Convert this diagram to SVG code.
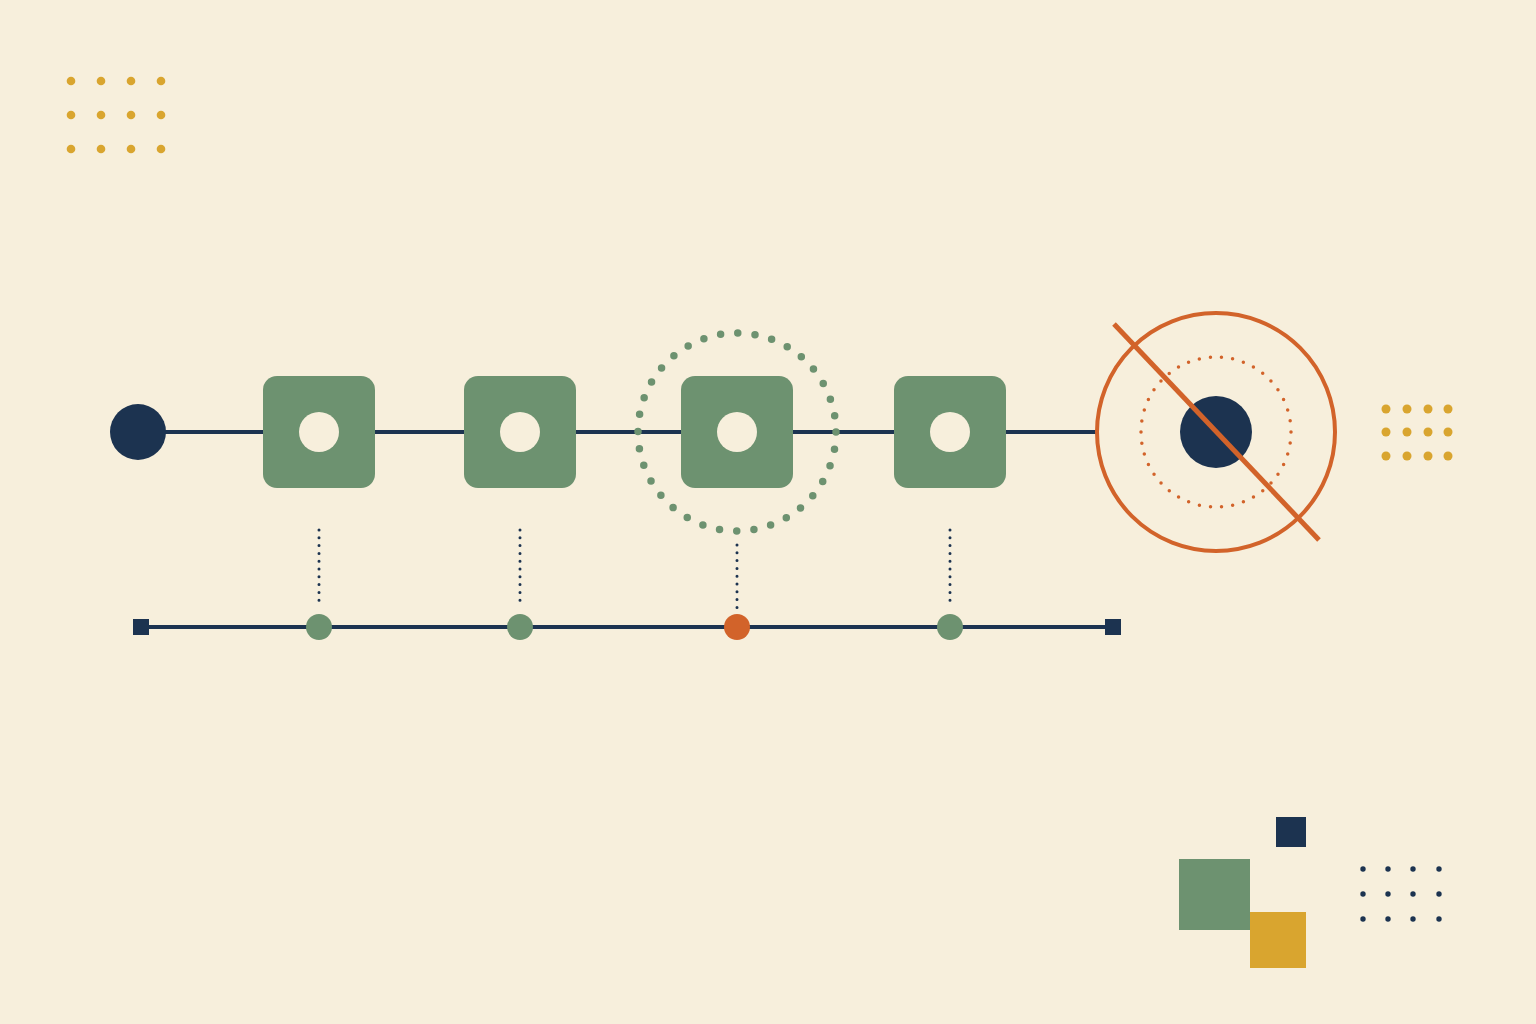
<svg xmlns="http://www.w3.org/2000/svg" width="1536" height="1024" viewBox="0 0 1536 1024">
<style>
.navy{fill:#1c3350}
.green{fill:#6d9270}
.orange{fill:#d2632a}
.gold{fill:#d9a52f}
.hole{fill:#f7efdc}
.line{stroke:#1c3350;stroke-width:4;fill:none}
.vdot{stroke:#1c3350;stroke-width:3;stroke-linecap:round;stroke-dasharray:0 7.8;fill:none}
</style>
<rect width="1536" height="1024" fill="#f7efdc"/>
<g id="dots-top-left" class="gold">
<circle cx="71" cy="81" r="4.3"/><circle cx="101" cy="81" r="4.3"/><circle cx="131" cy="81" r="4.3"/><circle cx="161" cy="81" r="4.3"/>
<circle cx="71" cy="115" r="4.3"/><circle cx="101" cy="115" r="4.3"/><circle cx="131" cy="115" r="4.3"/><circle cx="161" cy="115" r="4.3"/>
<circle cx="71" cy="149" r="4.3"/><circle cx="101" cy="149" r="4.3"/><circle cx="131" cy="149" r="4.3"/><circle cx="161" cy="149" r="4.3"/>
</g>
<g id="connectors">
<line class="line" x1="138" y1="432" x2="1098" y2="432"/>
<line class="line" x1="141" y1="627" x2="1113" y2="627" stroke-width="3.5"/>
<line class="vdot" x1="319" y1="530" x2="319" y2="608"/>
<line class="vdot" x1="520" y1="530" x2="520" y2="608"/>
<line class="vdot" x1="737" y1="545" x2="737" y2="608"/>
<line class="vdot" x1="950" y1="530" x2="950" y2="608"/>
</g>
<g id="start-node"><circle class="navy" cx="138" cy="432" r="28"/></g>
<g id="ring"><circle cx="737" cy="432" r="99" fill="none" stroke="#6d9270" stroke-width="7.5" stroke-linecap="round" stroke-dasharray="0 17.28"/></g>
<g id="step1"><rect class="green" x="263" y="376" width="112" height="112" rx="14"/><circle class="hole" cx="319" cy="432" r="20"/></g>
<g id="step2"><rect class="green" x="464" y="376" width="112" height="112" rx="14"/><circle class="hole" cx="520" cy="432" r="20"/></g>
<g id="step3"><rect class="green" x="681" y="376" width="112" height="112" rx="14"/><circle class="hole" cx="737" cy="432" r="20"/></g>
<g id="step4"><rect class="green" x="894" y="376" width="112" height="112" rx="14"/><circle class="hole" cx="950" cy="432" r="20"/></g>
<g id="target">
<circle cx="1216" cy="432" r="119" fill="none" stroke="#d2632a" stroke-width="4"/>
<circle cx="1216" cy="432" r="75" fill="none" stroke="#d2632a" stroke-width="3.5" stroke-linecap="round" stroke-dasharray="0 11.2"/>
<circle class="navy" cx="1216" cy="432" r="36"/>
<line x1="1114" y1="324" x2="1319" y2="540" stroke="#d2632a" stroke-width="5"/>
</g>
<g id="dots-right" class="gold">
<circle cx="1386" cy="409" r="4.5"/><circle cx="1407" cy="409" r="4.5"/><circle cx="1428" cy="409" r="4.5"/><circle cx="1448" cy="409" r="4.5"/>
<circle cx="1386" cy="432" r="4.5"/><circle cx="1407" cy="432" r="4.5"/><circle cx="1428" cy="432" r="4.5"/><circle cx="1448" cy="432" r="4.5"/>
<circle cx="1386" cy="456" r="4.5"/><circle cx="1407" cy="456" r="4.5"/><circle cx="1428" cy="456" r="4.5"/><circle cx="1448" cy="456" r="4.5"/>
</g>
<g id="timeline-start"><rect class="navy" x="133" y="619" width="16" height="16"/></g>
<g id="timeline-end"><rect class="navy" x="1105" y="619" width="16" height="16"/></g>
<g id="marker1"><circle class="green" cx="319" cy="627" r="13"/></g>
<g id="marker2"><circle class="green" cx="520" cy="627" r="13"/></g>
<g id="marker3"><circle class="orange" cx="737" cy="627" r="13"/></g>
<g id="marker4"><circle class="green" cx="950" cy="627" r="13"/></g>
<g id="squares">
<rect class="navy" x="1276" y="817" width="30" height="30"/>
<rect class="green" x="1179" y="859" width="71" height="71"/>
<rect class="gold" x="1250" y="912" width="56" height="56"/>
</g>
<g id="dots-bottom-right" class="navy">
<circle cx="1363" cy="869" r="2.7"/><circle cx="1388" cy="869" r="2.7"/><circle cx="1413" cy="869" r="2.7"/><circle cx="1439" cy="869" r="2.7"/>
<circle cx="1363" cy="894" r="2.7"/><circle cx="1388" cy="894" r="2.7"/><circle cx="1413" cy="894" r="2.7"/><circle cx="1439" cy="894" r="2.7"/>
<circle cx="1363" cy="919" r="2.7"/><circle cx="1388" cy="919" r="2.7"/><circle cx="1413" cy="919" r="2.7"/><circle cx="1439" cy="919" r="2.7"/>
</g>
</svg>
